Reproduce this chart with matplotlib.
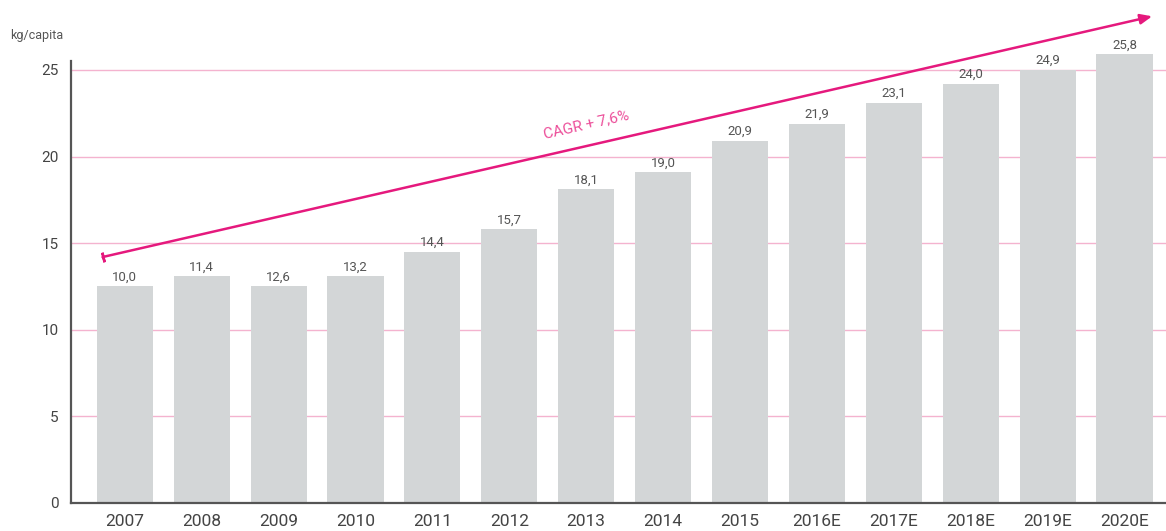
import matplotlib
matplotlib.use('Agg')
import matplotlib.pyplot as plt

years = ['2007', '2008', '2009', '2010', '2011', '2012', '2013', '2014', '2015',
         '2016E', '2017E', '2018E', '2019E', '2020E']
# bar heights as drawn in the picture
bar_heights = [12.5, 13.1, 12.5, 13.1, 14.5, 15.8, 18.1, 19.1, 20.9, 21.9, 23.1, 24.2, 25.0, 25.9]
# printed values on top of the bars
bar_labels = ['10,0', '11,4', '12,6', '13,2', '14,4', '15,7', '18,1', '19,0', '20,9',
              '21,9', '23,1', '24,0', '24,9', '25,8']
yticks = [0, 5, 10, 15, 20, 25]
cagr_text = 'CAGR + 7,6%'
cagr_start = (-0.29, 14.2)
cagr_end = (13.36, 28.1)

pink = '#e5197d'
plt.rcParams['font.family'] = ['Roboto', 'DejaVu Sans']

fig = plt.figure(figsize=(11.66, 5.31), dpi=100)
# y: 0 at 503 px, 17.32 px per unit, top of axes at 26.5
ax = fig.add_axes([71 / 1166, 28 / 531, 1 - 71 / 1166, 459 / 531])

x = list(range(len(years)))
ax.bar(x, bar_heights, width=0.73, color='#d3d6d7', zorder=2)
for xi, h, lab in zip(x, bar_heights, bar_labels):
    ax.annotate(lab, (xi, h), xytext=(0, 2), textcoords='offset points',
                ha='center', va='bottom', fontsize=9.5, color='#555555')

ax.set_xlim(-0.70, 13.54)
ax.set_ylim(0, 26.5)
ax.set_xticks(x)
ax.set_xticklabels(years)
ax.set_yticks(yticks)
ax.tick_params(axis='both', length=0, colors='#444444')
ax.tick_params(axis='x', labelsize=12.5, pad=8)
ax.tick_params(axis='y', labelsize=11, pad=9)

for v in yticks[1:]:
    ax.axhline(v, color='#f4b3cf', lw=1, zorder=1)

for side in ['top', 'right']:
    ax.spines[side].set_visible(False)
for side in ['left', 'bottom']:
    ax.spines[side].set_color('#555555')
    ax.spines[side].set_linewidth(1.6)
    ax.spines[side].set_zorder(3)
ax.spines['left'].set_bounds(0, 25.5)

# CAGR arrow
ax.annotate('', xy=cagr_end, xytext=cagr_start, annotation_clip=False,
            arrowprops=dict(arrowstyle='-|>,head_length=0.7,head_width=0.3',
                            color=pink, lw=1.8, shrinkA=0, shrinkB=0), zorder=4)
ax.plot([cagr_start[0]], [cagr_start[1]], marker=(2, 2, 12.9), ms=7, mew=1.8,
        color=pink, clip_on=False, zorder=4)
ax.text(6.0, 21.85, cagr_text, rotation=12.9, rotation_mode='anchor',
        ha='center', va='center', fontsize=11, color='#ec4f9a', zorder=4)

fig.text(10 / 1166, 1 - 36 / 531, 'kg/capita', ha='left', va='center',
         fontsize=9, color='#555555')

fig.savefig('out.png', dpi=100)
